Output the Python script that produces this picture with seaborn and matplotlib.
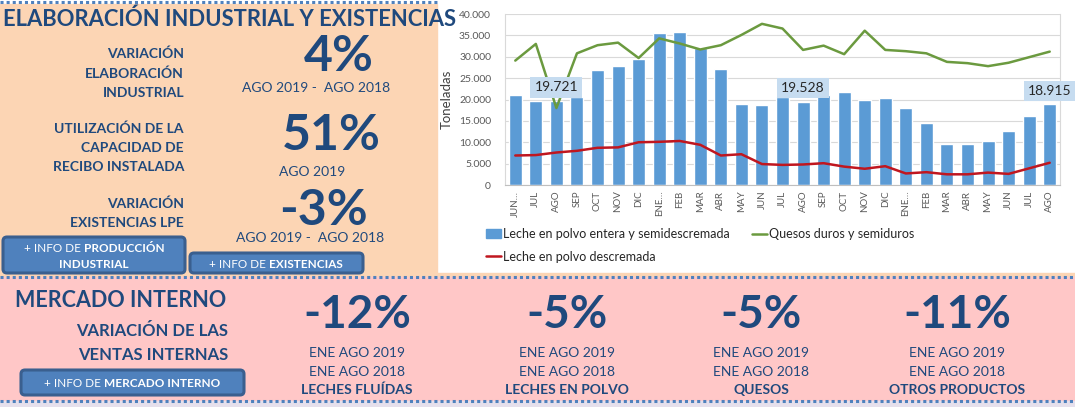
import numpy as np
import pandas as pd
import matplotlib
matplotlib.use("Agg")
import matplotlib.pyplot as plt
from matplotlib.patches import Rectangle, FancyBboxPatch, Patch
from matplotlib.lines import Line2D
import seaborn as sns

# ---- datos del gráfico (toneladas) ----
periodos = ["2017-06", "2017-07", "2017-08", "2017-09", "2017-10", "2017-11", "2017-12",
            "2018-01", "2018-02", "2018-03", "2018-04", "2018-05", "2018-06", "2018-07",
            "2018-08", "2018-09", "2018-10", "2018-11", "2018-12", "2019-01", "2019-02",
            "2019-03", "2019-04", "2019-05", "2019-06", "2019-07", "2019-08"]
meses = ["JUN…", "JUL", "AGO", "SEP", "OCT", "NOV", "DIC", "ENE…", "FEB", "MAR", "ABR", "MAY",
         "JUN", "JUL", "AGO", "SEP", "OCT", "NOV", "DIC", "ENE…", "FEB", "MAR", "ABR", "MAY",
         "JUN", "JUL", "AGO"]
entera = [21000, 19700, 19721, 20600, 26900, 27800, 29400, 35600, 35700, 32000, 27100, 19000,
          18700, 20600, 19528, 21000, 21700, 19900, 20300, 18000, 14400, 9600, 9700, 10300,
          12700, 16100, 18915]
quesos = [29100, 33000, 18000, 30800, 32700, 33300, 29700, 34300, 33100, 31700, 32700, 35100,
          37700, 36600, 31600, 32600, 30600, 36100, 31600, 31300, 30800, 28800, 28500, 27800,
          28600, 29900, 31200]
descremada = [6900, 7000, 7600, 8000, 8700, 8800, 10000, 10100, 10300, 9400, 6900, 7200,
              4900, 4700, 4800, 5100, 4300, 3800, 4400, 2700, 3000, 2500, 2500, 2900,
              2600, 3900, 5200]
etiquetas_idx = [2, 14, 26]

# ---- indicadores ----
ind_titulos = [["VARIACIÓN", "ELABORACIÓN", "INDUSTRIAL"],
               ["UTILIZACIÓN DE LA", "CAPACIDAD DE", "RECIBO INSTALADA"],
               ["VARIACIÓN", "EXISTENCIAS LPE"]]
ind_valores = ["4%", "51%", "-3%"]
ind_periodos = ["AGO 2019 -  AGO 2018", "AGO 2019", "AGO 2019 -  AGO 2018"]
mi_valores = ["-12%", "-5%", "-5%", "-11%"]
mi_productos = ["LECHES FLUÍDAS", "LECHES EN POLVO", "QUESOS", "OTROS PRODUCTOS"]

NAVY = "#1F497D"
PEACH = "#FCD5B4"
PINK = "#FFC7C7"
LAV = "#E6E0EC"
BTN = "#4F81BD"

sns.set_style("white")
plt.rcParams["font.family"] = ["Lato", "DejaVu Sans"]

W, H = 1075, 407
fig = plt.figure(figsize=(W / 100, H / 100), dpi=100)
bg = fig.add_axes([0, 0, 1, 1], zorder=0)
bg.set_xlim(0, W)
bg.set_ylim(H, 0)
bg.axis("off")

# fondos
bg.add_patch(Rectangle((0, 0), W, H, color="white"))
bg.add_patch(Rectangle((0, 4), 437, 272, color=PEACH))
bg.add_patch(Rectangle((0, 273), W, 5, color=PEACH))
bg.add_patch(Rectangle((0, 277), W, 124, color=PINK))
bg.add_patch(Rectangle((0, 401), W, 6, color=LAV))
for x1, y in [(437, 2), (W, 277), (W, 401)]:
    bg.plot([0, x1], [y, y], color=BTN, lw=2.2, linestyle=(0, (1, 1)),
            dash_capstyle="butt")


def txt(x, y, s, size, bold=False, ha="center", color=NAVY):
    return bg.text(x, y, s, fontsize=size, fontweight="bold" if bold else "normal",
                   ha=ha, va="baseline", color=color)


def boton(x0, y0, x1, y1):
    r = 4
    bg.add_patch(FancyBboxPatch((x0 + r, y0 + r), x1 - x0 - 2 * r, y1 - y0 - 2 * r,
                                boxstyle=f"round,pad={r},rounding_size={r}",
                                fc=BTN, ec="#3A5F8F", lw=2.2))


def linea_mixta(cx, y, normal, negrita, size):
    r = fig.canvas.get_renderer()
    t1 = txt(0, y, normal, size, ha="left", color="white")
    t2 = txt(0, y, negrita, size, bold=True, ha="left", color="white")
    w1 = t1.get_window_extent(r).width
    w2 = t2.get_window_extent(r).width
    gap = 3.5
    x0 = cx - (w1 + gap + w2) / 2
    t1.set_x(x0)
    t2.set_x(x0 + w1 + gap)


# ---- panel superior izquierdo ----
txt(3, 26, "ELABORACIÓN INDUSTRIAL Y EXISTENCIAS", 15.8, bold=True, ha="left")
bases_tit = [[58, 78, 97], [133, 152, 171], [208, 227]]
for lineas, bases in zip(ind_titulos, bases_tit):
    for s, yb in zip(lineas, bases):
        txt(184, yb, s, 10, bold=True, ha="right")
for s, (x, yb) in zip(ind_valores, [(339, 71), (331, 150), (323, 225)]):
    txt(x, yb, s, 36, bold=True)
for s, (x, yb) in zip(ind_periodos, [(316, 92), (312, 176), (310, 242)]):
    txt(x, yb, s, 10)

boton(3, 237, 185, 273)
linea_mixta(94, 252, "+ INFO DE", "PRODUCCIÓN", 8.5)
txt(94, 268, "INDUSTRIAL", 8.5, bold=True, color="white")
boton(190, 253, 363, 273)
linea_mixta(276, 268, "+ INFO DE", "EXISTENCIAS", 8.5)

# ---- panel mercado interno ----
txt(15, 307, "MERCADO INTERNO", 15.5, bold=True, ha="left")
txt(228, 336, "VARIACIÓN DE LAS", 12, bold=True, ha="right")
txt(228, 360, "VENTAS INTERNAS", 12, bold=True, ha="right")
boton(21, 370, 244, 395)
linea_mixta(132, 387, "+ INFO DE", "MERCADO INTERNO", 8.5)
for cx, v, p in zip([357, 567, 761, 957], mi_valores, mi_productos):
    txt(cx, 328, v, 33, bold=True)
    txt(cx, 357, "ENE AGO 2019", 10)
    txt(cx, 376, "ENE AGO 2018", 10)
    txt(cx, 394, p, 10, bold=True)

# ---- gráfico ----
df = pd.DataFrame({"periodo": periodos, "entera": entera,
                   "quesos": quesos, "descremada": descremada})
ax = fig.add_axes([505 / W, 1 - 185 / H, 555 / W, 171 / H], zorder=2)
ax.set_facecolor("none")
sns.barplot(data=df, x="periodo", y="entera", color="#5B9BD5", saturation=1,
            width=0.63, ax=ax, zorder=2)
sns.lineplot(data=df, x="periodo", y="quesos", color="#6B9A3F", lw=1.8, ax=ax,
             sort=False, zorder=3)
sns.lineplot(data=df, x="periodo", y="descremada", color="#C0161F", lw=1.8, ax=ax,
             sort=False, zorder=3)

for i in etiquetas_idx:
    v = entera[i]
    ax.annotate(f"{v:,}".replace(",", "."), (i, v), xytext=(0, 9.5),
                textcoords="offset points", ha="center", va="center",
                fontsize=10, color="#262626", zorder=5,
                bbox=dict(boxstyle="square,pad=0.3", fc="#C6DCF0", ec="none"))

ax.set_xlim(-0.5, len(periodos) - 0.5)
ax.set_ylim(0, 40000)
ax.set_yticks(np.arange(0, 40001, 5000))
ax.set_yticklabels([f"{int(t):,}".replace(",", ".") for t in np.arange(0, 40001, 5000)])
ax.set_xticks(range(len(meses)))
ax.set_xticklabels(meses, rotation=90)
ax.set_xticks(np.arange(-0.5, len(meses), 1), minor=True)
ax.tick_params(axis="x", which="major", length=0, labelsize=7, labelcolor="#595959", pad=4)
ax.tick_params(axis="x", which="minor", length=4, color="#BFBFBF", width=0.8)
ax.tick_params(axis="y", length=0, labelsize=7.5, labelcolor="#595959", pad=10)
ax.yaxis.grid(True, color="#D9D9D9", lw=0.8)
ax.set_axisbelow(True)
for side in ["left", "right"]:
    ax.spines[side].set_color("#D9D9D9")
    ax.spines[side].set_linewidth(0.8)
ax.spines["top"].set_visible(False)
ax.spines["bottom"].set_color("#BFBFBF")
ax.spines["bottom"].set_linewidth(0.8)
ax.set_xlabel("")
ax.set_ylabel("Toneladas", fontsize=9.5, color="#404040")
ax.yaxis.set_label_coords(-0.095, 0.5)

handles = [Patch(color="#5B9BD5"),
           Line2D([], [], color="#C0161F", lw=1.8),
           Line2D([], [], color="#6B9A3F", lw=1.8)]
labels = ["Leche en polvo entera y semidescremada", "Leche en polvo descremada",
          "Quesos duros y semiduros"]
fig.legend(handles, labels, ncol=2, loc="upper left",
           bbox_to_anchor=(486 / W, 1 - 228 / H), frameon=False, fontsize=9,
           handlelength=1.2, handletextpad=0.15, columnspacing=1.8,
           labelspacing=0.85, borderpad=0, borderaxespad=0, labelcolor="#262626")

fig.savefig("out.png", dpi=100)
